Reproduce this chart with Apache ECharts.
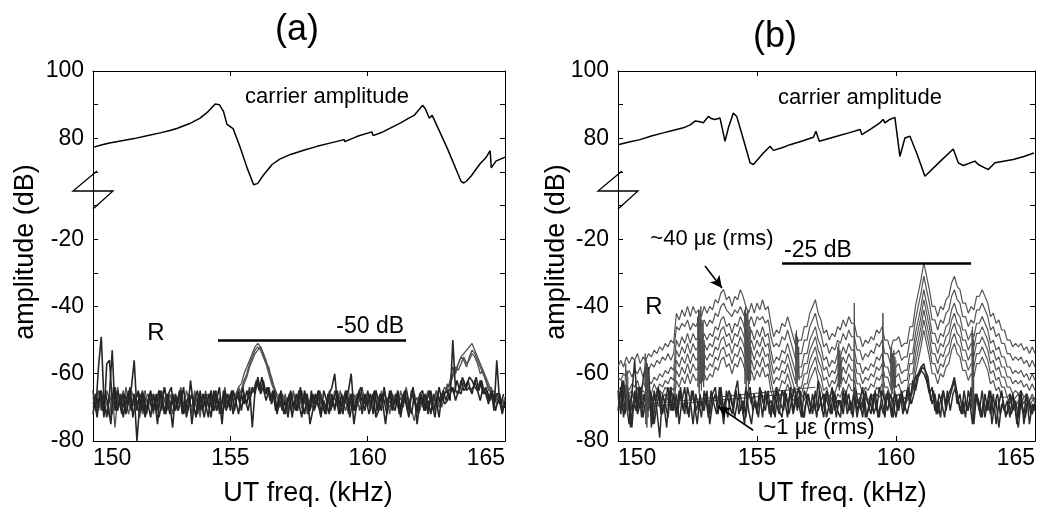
<!DOCTYPE html>
<html><head><meta charset="utf-8">
<script src="https://cdn.jsdelivr.net/npm/echarts/dist/echarts.min.js"></script>
<style>html,body{margin:0;padding:0;background:#fff}#chart{width:1053px;height:513px}</style>
</head><body><div id="chart"></div>
<script>
// ---------- x-axis tick labels / y-axis tick labels ----------
const xTicks = [150, 155, 160, 165];
const yTickLabels = {30: '100', 10: '80', '-20': '-20', '-40': '-40', '-60': '-60', '-80': '-80'};
const UPPER_SHIFT = 70; // upper (carrier) segment is drawn above the axis break: axis value = dB - 70

// ---------- carrier amplitude (dB) ----------
const carrierA_f  = [150.0,150.3,150.6,151.0,151.5,152.0,152.45,152.8,153.05,153.5,153.9,154.2,154.45,154.6,154.75,154.88,155.1,155.35,155.61,155.85,156.0,156.2,156.52,156.8,157.19,157.7,158.16,158.7,159.14,159.17,159.6,160.15,160.2,160.5,161.2,161.5,161.69,161.85,162.0,162.1,162.24,162.35,162.42,162.9,163.4,163.5,163.6,163.76,164.1,164.3,164.46,164.5,164.67,165.0];
const carrierA_db = [77.3,78.0,78.6,79.2,79.9,80.8,81.6,82.3,82.9,84.3,86.0,88.0,90.2,90.0,88.0,84.1,82.9,77.5,71.2,66.2,66.6,69.0,72.2,73.8,75.2,76.5,77.6,78.7,79.6,79.0,80.5,81.9,80.8,81.7,84.6,86.0,86.8,88.3,89.8,88.8,86.0,86.8,86.5,77.0,67.2,66.7,67.3,68.7,72.5,74.2,76.3,71.2,73.2,74.4];
const carrierB_f  = [150.0,150.4,150.79,151.2,151.63,152.0,152.35,152.6,152.77,152.9,153.07,153.25,153.35,153.49,153.67,153.85,153.97,154.15,154.27,154.5,154.75,154.87,155.05,155.23,155.47,155.59,155.9,156.19,156.6,157.03,157.12,157.24,157.87,158.3,158.71,158.77,159.1,159.42,159.54,159.6,159.78,159.96,160.14,160.32,160.5,160.75,161.04,161.1,161.6,162.06,162.24,162.42,162.84,162.96,163.32,163.56,164.22,164.6,164.96];
const carrierB_db = [78.1,78.9,79.6,80.7,81.6,82.4,83.1,84.0,85.1,85.0,84.6,86.5,85.9,85.6,86.0,79.1,83.1,87.5,86.5,80.0,72.7,72.2,73.9,75.6,77.6,76.4,77.2,78.1,79.1,80.3,82.1,79.1,80.6,81.6,82.6,81.1,82.8,84.6,85.6,84.6,85.6,86.2,74.6,80.1,80.6,75.5,68.7,69.2,73.2,76.8,72.7,71.9,73.2,72.2,70.7,72.7,73.7,74.6,75.6];

// ---------- sideband spectra, sampled every 0.1 kHz from 150 kHz (offset records from 150.05 kHz) ----------
const specStart = 150, specStartOffset = 150.05, specStep = 0.1;
// panel (a): traces with sidebands
const specA1 = [-69,-66,-71,-67,-70,-65,-68,-72,-66,-69, -67,-70,-64,-69,-71,-66,-68,-73,-67,-65, -70,-68,-66,-71,-67,-69,-64,-70,-68,-72, -66,-69,-67,-71,-65,-68,-70,-66,-72,-67, -69,-65,-70,-68,-66,-71,-67,-69,-64,-70, -67,-68,-66,-64,-63,-60,-58,-56,-54,-52, -51,-52,-54,-56,-59,-61,-64,-66,-67,-69, -66,-70,-68,-65,-71,-67,-69,-66,-72,-68, -67,-70,-65,-69,-68,-71,-66,-69,-67,-70, -65,-68,-71,-67,-69,-66,-70,-68,-64,-69, -67,-71,-66,-68,-70,-65,-69,-67,-72,-66, -68,-70,-65,-69,-67,-71,-66,-68,-70,-67, -69,-66,-71,-67,-68,-65,-70,-68,-66,-64, -63,-61,-59,-57,-55,-54,-53,-52,-51,-53, -55,-57,-59,-61,-63,-65,-67,-66,-69,-68, -70];
const specA2 = [-67,-71,-68,-65,-69,-72,-66,-70,-68,-64, -70,-67,-69,-72,-65,-68,-70,-66,-71,-68, -66,-69,-72,-67,-70,-65,-68,-71,-66,-69, -70,-67,-64,-69,-71,-68,-66,-70,-67,-73, -66,-70,-68,-65,-71,-67,-69,-72,-68,-66, -70,-65,-68,-66,-65,-62,-60,-57,-55,-53, -52,-53,-55,-57,-60,-63,-65,-67,-70,-66, -69,-67,-71,-66,-68,-70,-65,-69,-67,-71, -68,-66,-70,-67,-69,-72,-65,-68,-70,-66, -69,-71,-67,-65,-70,-68,-66,-71,-69,-67, -70,-66,-69,-72,-67,-68,-65,-70,-68,-71, -66,-69,-67,-70,-64,-68,-71,-74,-69,-66, -70,-68,-65,-69,-71,-67,-68,-66,-64,-65, -62,-58,-60,-57,-55,-56,-58,-55,-53,-54, -56,-58,-60,-62,-64,-66,-65,-68,-67,-70, -68];
const specA3 = [-70,-68,-65,-71,-67,-69,-73,-66,-76,-67, -68,-65,-71,-67,-70,-69,-66,-68,-72,-67, -69,-66,-70,-68,-65,-71,-67,-69,-70,-66, -68,-71,-66,-70,-68,-67,-72,-65,-69,-68, -71,-67,-66,-70,-69,-65,-72,-68,-67,-70, -68,-66,-69,-64,-66,-63,-61,-58,-56,-54, -53,-52,-54,-57,-58,-62,-64,-67,-68,-70, -67,-71,-66,-69,-68,-65,-70,-72,-67,-69, -70,-67,-68,-66,-71,-69,-67,-70,-65,-68, -67,-70,-68,-72,-66,-69,-67,-70,-71,-66, -68,-70,-67,-65,-71,-69,-66,-68,-70,-67, -69,-67,-71,-66,-68,-70,-65,-69,-67,-71, -67,-70,-66,-68,-69,-65,-67,-70,-66,-63, -64,-60,-58,-59,-57,-55,-57,-56,-54,-55, -57,-60,-59,-62,-65,-64,-67,-69,-66,-69, -67];
// panel (a): traces without sidebands (noise floor)
const specA4 = [-65,-71,-58,-49,-68,-73,-66,-53,-71,-65, -69,-66,-72,-68,-64,-56,-71,-66,-69,-73, -68,-65,-71,-66,-73,-69,-64,-68,-72,-66, -71,-68,-65,-72,-69,-66,-75,-68,-65,-71, -66,-69,-73,-65,-71,-68,-64,-72,-69,-66, -71,-65,-68,-72,-66,-69,-65,-68,-64,-66, -61,-65,-62,-66,-64,-68,-65,-71,-66,-69, -72,-68,-65,-71,-66,-69,-73,-65,-68,-71, -66,-69,-65,-72,-68,-71,-66,-64,-60,-69, -68,-72,-66,-65,-60,-71,-68,-65,-72,-66, -69,-66,-72,-65,-68,-71,-64,-69,-66,-71, -68,-65,-71,-66,-69,-73,-65,-68,-71,-66, -65,-71,-68,-72,-66,-69,-64,-68,-66,-65, -68,-50,-65,-66,-62,-65,-64,-61,-62,-64, -65,-62,-66,-64,-68,-65,-69,-66,-66,-71, -69];
const specA5 = [-72,-66,-69,-65,-73,-57,-56,-68,-64,-71, -66,-73,-68,-65,-71,-66,-80,-69,-65,-72, -69,-73,-66,-71,-65,-68,-72,-66,-69,-76, -66,-71,-68,-64,-73,-69,-66,-71,-72,-65, -71,-66,-69,-73,-65,-71,-68,-75,-65,-69, -66,-72,-68,-65,-71,-66,-69,-64,-76,-65, -62,-66,-64,-68,-65,-69,-66,-72,-68,-71, -68,-73,-66,-69,-71,-65,-68,-72,-66,-75, -71,-66,-69,-73,-65,-68,-72,-66,-71,-65, -72,-68,-65,-71,-66,-75,-69,-66,-68,-71, -65,-69,-66,-73,-71,-66,-68,-72,-65,-69, -71,-66,-73,-68,-65,-69,-72,-66,-75,-68, -69,-66,-72,-65,-71,-68,-73,-66,-69,-68, -66,-64,-68,-65,-66,-62,-65,-64,-66,-62, -65,-68,-64,-66,-69,-65,-71,-56,-68,-72, -68];
const specA6 = [-68,-73,-65,-71,-66,-69,-75,-64,-71,-68, -72,-66,-69,-64,-73,-68,-65,-71,-66,-72, -66,-71,-68,-75,-65,-69,-72,-66,-64,-71, -69,-65,-72,-68,-71,-62,-69,-73,-66,-69, -73,-68,-66,-71,-65,-69,-72,-65,-71,-68, -65,-71,-66,-69,-64,-68,-71,-66,-65,-62, -65,-61,-66,-64,-68,-65,-71,-68,-65,-72, -69,-66,-73,-68,-71,-64,-69,-66,-72,-65, -71,-68,-65,-69,-72,-66,-71,-68,-65,-72, -66,-69,-65,-73,-68,-71,-66,-64,-69,-68, -72,-68,-65,-71,-66,-69,-75,-68,-65,-69, -66,-72,-68,-65,-71,-68,-64,-69,-72,-66, -71,-68,-65,-69,-73,-66,-69,-65,-68,-65, -64,-66,-62,-65,-61,-64,-62,-65,-64,-61, -65,-62,-66,-65,-68,-66,-71,-68,-69,-66];

// panel (b): traces for increasing strain (~40 down to ~1 microstrain rms), top to bottom
const specB1 = [-58,-56,-58,-55,-57,-55,-56,-54,-57,-55, -56,-54,-55,-53,-54,-52,-53,-51,-52,-50, -51,-42,-44,-41,-43,-40,-43,-40,-42,-41, -43,-40,-42,-40,-41,-38,-39,-36,-35,-38, -37,-40,-37,-38,-35,-37,-40,-42,-39,-42, -39,-41,-38,-41,-40,-45,-49,-47,-48,-45, -46,-43,-46,-49,-52,-50,-50,-46,-46,-42, -40,-38,-42,-44,-48,-47,-50,-48,-49,-46, -47,-44,-46,-43,-45,-45,-49,-49,-52,-50, -51,-49,-50,-47,-48,-46,-50,-50,-53,-50, -50,-49,-52,-51,-51,-46,-46,-40,-36,-32, -27,-31,-35,-40,-40,-43,-40,-41,-38,-37, -33,-31,-34,-35,-39,-39,-42,-40,-41,-37, -37,-35,-37,-39,-43,-42,-45,-44,-47,-47, -50,-50,-52,-51,-52,-51,-53,-52,-54,-52, -54];
const specB2 = [-61,-62,-60,-61,-59,-61,-59,-60,-58,-61, -58,-59,-57,-58,-56,-57,-55,-56,-54,-56, -54,-46,-47,-45,-46,-44,-47,-45,-46,-44, -46,-44,-46,-44,-45,-42,-43,-40,-39,-41, -42,-43,-41,-42,-40,-42,-44,-45,-43,-46, -43,-44,-43,-45,-44,-49,-52,-51,-52,-49, -50,-47,-50,-53,-56,-54,-54,-50,-50,-46, -44,-42,-46,-48,-52,-51,-54,-52,-53,-50, -51,-48,-50,-47,-49,-49,-53,-53,-56,-54, -55,-53,-54,-51,-52,-50,-54,-54,-57,-54, -54,-53,-56,-55,-55,-50,-50,-44,-40,-36, -31,-35,-39,-44,-44,-47,-44,-45,-42,-41, -37,-35,-38,-39,-43,-43,-46,-44,-45,-41, -41,-39,-41,-43,-47,-46,-49,-48,-51,-51, -54,-54,-56,-55,-56,-55,-57,-56,-58,-56, -58];
const specB3 = [-65,-64,-66,-63,-65,-63,-64,-62,-65,-63, -63,-62,-63,-61,-62,-60,-61,-59,-60,-58, -59,-50,-52,-49,-51,-48,-51,-48,-50,-49, -51,-48,-50,-48,-49,-46,-47,-44,-43,-46, -45,-48,-45,-46,-43,-45,-48,-50,-47,-50, -47,-49,-46,-49,-48,-53,-57,-55,-56,-53, -54,-51,-54,-57,-60,-58,-58,-54,-54,-50, -48,-46,-50,-52,-56,-55,-58,-56,-57,-54, -55,-52,-54,-51,-53,-53,-57,-57,-60,-58, -59,-57,-58,-55,-56,-54,-58,-58,-61,-58, -58,-57,-60,-59,-59,-54,-54,-48,-44,-40, -35,-39,-43,-48,-48,-51,-48,-49,-46,-45, -41,-39,-42,-43,-47,-47,-50,-48,-49,-45, -45,-43,-45,-47,-51,-50,-53,-52,-55,-55, -58,-58,-60,-59,-60,-59,-61,-60,-62,-60, -62];
const specB4 = [-67,-65,-68,-64,-66,-65,-67,-64,-66,-65, -66,-64,-66,-63,-65,-63,-64,-62,-63,-61, -62,-53,-55,-52,-54,-51,-54,-51,-53,-52, -54,-51,-53,-51,-52,-49,-50,-47,-46,-49, -48,-51,-48,-49,-46,-48,-51,-53,-50,-53, -50,-52,-49,-52,-51,-56,-60,-58,-59,-56, -57,-54,-57,-60,-63,-61,-61,-57,-57,-53, -51,-49,-53,-55,-59,-58,-61,-59,-60,-57, -58,-55,-57,-54,-56,-56,-60,-60,-63,-61, -62,-60,-61,-58,-59,-57,-61,-61,-64,-61, -61,-60,-63,-62,-62,-57,-57,-51,-47,-43, -38,-42,-46,-51,-51,-54,-51,-52,-49,-48, -44,-42,-45,-46,-50,-50,-53,-51,-52,-48, -48,-46,-48,-50,-54,-53,-56,-55,-58,-58, -61,-61,-63,-62,-63,-62,-64,-63,-65,-63, -65];
const specB5 = [-66,-69,-65,-67,-70,-66,-68,-64,-67,-69, -67,-65,-68,-66,-67,-65,-66,-64,-65,-64, -65,-56,-58,-55,-57,-54,-57,-54,-56,-55, -57,-54,-56,-54,-55,-52,-53,-50,-49,-52, -51,-54,-51,-52,-49,-51,-54,-56,-53,-56, -53,-55,-52,-55,-54,-59,-63,-61,-62,-59, -60,-57,-60,-63,-66,-64,-64,-60,-60,-56, -54,-52,-56,-58,-62,-61,-64,-62,-63,-60, -61,-58,-60,-57,-59,-59,-63,-63,-66,-64, -65,-63,-64,-61,-62,-60,-64,-64,-67,-64, -64,-63,-66,-65,-65,-60,-60,-54,-50,-46, -41,-45,-49,-54,-54,-57,-54,-55,-52,-51, -47,-45,-48,-49,-53,-53,-56,-54,-55,-51, -51,-49,-51,-53,-57,-56,-59,-58,-61,-61, -64,-64,-66,-65,-66,-65,-67,-66,-68,-66, -68];
const specB6 = [-68,-65,-70,-67,-66,-71,-67,-69,-65,-68, -66,-70,-67,-68,-65,-69,-67,-66,-68,-65, -67,-59,-61,-58,-60,-57,-60,-57,-59,-58, -60,-57,-59,-57,-58,-55,-56,-53,-52,-55, -54,-57,-54,-55,-52,-54,-57,-59,-56,-59, -56,-58,-55,-58,-57,-62,-66,-64,-65,-62, -63,-60,-63,-66,-68,-67,-66,-63,-63,-59, -57,-55,-59,-61,-65,-64,-67,-65,-66,-63, -64,-61,-63,-60,-62,-62,-66,-66,-68,-67, -68,-66,-67,-64,-65,-63,-67,-67,-69,-67, -67,-66,-68,-67,-68,-63,-63,-57,-53,-49, -44,-48,-52,-57,-57,-60,-57,-58,-55,-54, -50,-48,-51,-52,-56,-56,-59,-57,-58,-54, -54,-52,-54,-56,-60,-59,-62,-61,-64,-64, -67,-66,-68,-67,-66,-69,-67,-66,-68,-67, -69];
const specB7 = [-67,-70,-66,-68,-71,-65,-69,-67,-70,-66, -69,-67,-71,-66,-68,-70,-67,-69,-66,-68, -70,-62,-64,-61,-63,-60,-63,-60,-62,-61, -63,-60,-62,-60,-61,-58,-59,-56,-55,-58, -57,-60,-57,-58,-55,-57,-60,-62,-59,-62, -59,-61,-58,-61,-60,-65,-68,-66,-68,-65, -66,-63,-66,-68,-67,-70,-66,-68,-65,-62, -60,-58,-62,-64,-68,-66,-69,-67,-69,-66, -67,-64,-66,-63,-65,-65,-69,-67,-70,-67, -69,-67,-68,-66,-67,-65,-69,-67,-70,-68, -68,-69,-67,-70,-68,-66,-66,-60,-56,-52, -47,-51,-55,-60,-60,-63,-60,-61,-58,-57, -53,-51,-54,-55,-59,-59,-62,-60,-61,-57, -57,-55,-57,-59,-63,-62,-65,-64,-67,-67, -67,-69,-66,-70,-68,-67,-69,-66,-70,-68, -67];
// panel (b): noise-floor records
const specB8 = [-65,-72,-62,-69,-75,-66,-56,-71,-64,-73, -68,-58,-76,-65,-71,-79,-66,-69,-73,-64, -71,-66,-75,-68,-64,-72,-69,-65,-71,-68, -73,-65,-69,-72,-66,-64,-71,-68,-75,-65, -69,-72,-66,-62,-71,-68,-73,-65,-69,-66, -72,-64,-68,-71,-65,-73,-66,-69,-72,-65, -68,-73,-64,-71,-66,-69,-73,-65,-68,-72, -66,-71,-62,-69,-73,-65,-68,-72,-66,-71, -73,-65,-69,-66,-72,-64,-71,-68,-73,-65, -69,-72,-66,-71,-64,-68,-73,-65,-69,-73, -66,-71,-65,-69,-72,-68,-64,-61,-60,-58, -57,-61,-65,-69,-66,-72,-68,-65,-71,-66, -64,-61,-66,-71,-68,-73,-65,-69,-72,-66, -71,-65,-73,-68,-72,-66,-75,-69,-65,-71, -68,-73,-66,-71,-76,-68,-72,-66,-75,-69, -71];
const specB9 = [-71,-64,-73,-66,-68,-76,-65,-72,-69,-62, -57,-71,-66,-75,-69,-65,-72,-68,-64,-71, -66,-73,-65,-69,-72,-64,-68,-75,-66,-71, -68,-71,-65,-75,-69,-66,-72,-64,-71,-68, -65,-69,-73,-68,-66,-72,-64,-71,-75,-68, -71,-66,-73,-65,-69,-68,-72,-64,-71,-73, -65,-69,-66,-72,-68,-64,-71,-73,-66,-69, -72,-65,-71,-68,-66,-73,-69,-64,-71,-68, -68,-72,-65,-71,-69,-66,-73,-68,-64,-73, -71,-66,-72,-69,-73,-65,-68,-71,-66,-69, -73,-68,-66,-71,-65,-69,-62,-65,-61,-59, -60,-62,-66,-64,-71,-68,-73,-65,-69,-68, -65,-62,-69,-66,-72,-68,-71,-64,-75,-66, -69,-73,-66,-71,-65,-72,-68,-76,-69,-71, -72,-66,-71,-68,-73,-65,-75,-69,-68,-72, -69];
const specB10 = [-69,-62,-72,-65,-76,-68,-71,-64,-73,-66, -71,-65,-75,-68,-64,-72,-69,-76,-65,-71, -68,-72,-64,-71,-66,-73,-65,-69,-75,-66, -71,-66,-73,-65,-69,-72,-64,-71,-68,-73, -66,-71,-65,-72,-69,-75,-66,-64,-71,-68, -73,-65,-69,-66,-72,-68,-73,-65,-69,-71, -66,-72,-68,-64,-71,-65,-73,-69,-66,-71, -68,-73,-65,-71,-66,-69,-72,-65,-73,-68, -71,-66,-72,-68,-73,-65,-69,-71,-66,-73, -68,-71,-65,-73,-69,-72,-66,-68,-73,-65, -71,-66,-72,-68,-64,-69,-66,-61,-60,-58, -59,-61,-68,-65,-72,-66,-69,-73,-65,-71, -66,-64,-68,-72,-65,-71,-68,-75,-66,-69, -73,-68,-71,-65,-75,-69,-66,-72,-68,-73, -69,-72,-68,-75,-66,-71,-73,-68,-72,-69];
// panel (b): sparse lowest-level record (straight segments between few samples)
const sparseB1 = [[150.0, -70.0], [157.1, -64.0]];
const sparseB2 = [[150.0, -70.6], [156.1, -66.0]];
// panel (b): rapid oscillation bursts  [kHz, dB]
const burstsB = [
  [[150.26,-62],[150.28,-57],[150.30,-71],[150.32,-59],[150.34,-72],[150.36,-61]],
  [[150.96,-64],[150.98,-54],[151.00,-75],[151.02,-56],[151.04,-76],[151.06,-57],[151.08,-73],[151.10,-60],[151.12,-70]],
  [[152.86,-43],[152.88,-64],[152.90,-41],[152.92,-66],[152.94,-42],[152.96,-63],[152.98,-40],[153.00,-65],[153.02,-44],[153.04,-62],[153.06,-45],[153.08,-64],[153.10,-50],[153.12,-62]],
  [[154.55,-41],[154.57,-63],[154.59,-40],[154.61,-65],[154.63,-42],[154.65,-62],[154.67,-41],[154.69,-66],[154.71,-44],[154.73,-63],[154.75,-46],[154.77,-62],[154.79,-52]],
  [[156.38,-48],[156.40,-62],[156.42,-47],[156.44,-64],[156.46,-49],[156.48,-61],[156.50,-52],[156.52,-62]],
  [[157.90,-52],[157.92,-64],[157.94,-51],[157.96,-65],[157.98,-53],[158.00,-63],[158.02,-55],[158.04,-62],[158.06,-58]],
  [[158.47,-66],[158.50,-39],[158.53,-67]],
  [[159.50,-65],[159.53,-42],[159.56,-66]],
  [[159.80,-53],[159.82,-65],[159.84,-52],[159.86,-66],[159.88,-54],[159.90,-64],[159.92,-53],[159.94,-66],[159.96,-55],[159.98,-64],[160.00,-56]],
  [[162.73,-47],[162.74,-70],[162.75,-46],[162.76,-72],[162.77,-48],[162.78,-69],[162.79,-50],[162.80,-71]]
];

// ---------- reference lines / arrows (data coordinates) ----------
const refA = {from: 154.55, to: 161.4, level: -50, text: '-50 dB'};
const refB = {from: 155.9, to: 162.7, level: -27.3, text: '-25 dB'};
const arrowHigh = [[153.13, -28.0], [153.74, -34.5]];
const arrowLow  = [[154.86, -76.8], [153.6, -69.7]];

// =================== chart ===================
const FONT = '"Liberation Sans", Arial, Helvetica, sans-serif';
const GA = {left: 93, top: 71, width: 412, height: 370};
const GB = {left: 618, top: 71, width: 417, height: 370};

const spec = (arr, start) => arr.map((v, i) => [+((start === undefined ? specStart : start) + i * specStep).toFixed(2), v]);
const pairs = (fs, vs, shift) => fs.map((f, i) => [f, vs[i] - shift]);

function yLabel(v) { return yTickLabels[v] !== undefined ? yTickLabels[v] : ''; }

const tick = {inside: true, length: 5, lineStyle: {color: '#000', width: 1}};
const aline = {show: true, onZero: false, lineStyle: {color: '#000', width: 1}};

function xAxes(gi) {
  return [
    {gridIndex: gi, type: 'value', min: xTicks[0], max: xTicks[xTicks.length - 1], interval: xTicks[1] - xTicks[0], position: 'bottom',
     axisLine: aline, axisTick: tick, splitLine: {show: false},
     axisLabel: {color: '#000', fontSize: 23, fontFamily: FONT, margin: 6, showMinLabel: true, showMaxLabel: true, alignMinLabel: 'left', alignMaxLabel: 'right'}},
    {gridIndex: gi, type: 'value', min: xTicks[0], max: xTicks[xTicks.length - 1], interval: xTicks[1] - xTicks[0], position: 'top',
     axisLine: aline, axisTick: tick, splitLine: {show: false}, axisLabel: {show: false}}
  ];
}
function yAxes(gi) {
  return [
    {gridIndex: gi, type: 'value', min: -80, max: 30, interval: 10, position: 'left',
     axisLine: aline, axisTick: tick, splitLine: {show: false},
     axisLabel: {color: '#000', fontSize: 23, fontFamily: FONT, margin: 9, formatter: yLabel, showMinLabel: true, showMaxLabel: true}},
    {gridIndex: gi, type: 'value', min: -80, max: 30, interval: 10, position: 'right',
     axisLine: aline, axisTick: tick, splitLine: {show: false}, axisLabel: {show: false}}
  ];
}

function line(data, xi, yi, color, width, extra) {
  return Object.assign({type: 'line', xAxisIndex: xi, yAxisIndex: yi, data: data, showSymbol: false, symbol: 'none',
    lineStyle: {color: color, width: width}, itemStyle: {color: color}, silent: true, animation: false, z: 2}, extra || {});
}

function refMark(ref, labelPos) {
  return [[{coord: [ref.from, ref.level], symbol: 'none'}, {coord: [ref.to, ref.level], symbol: 'none',
    label: {show: true, position: labelPos, formatter: ref.text, color: '#000', fontSize: 23, fontFamily: FONT, distance: 2}}]];
}
function arrowMark(a) {
  return [{coord: a[0], symbol: 'none', lineStyle: {width: 1.6, color: '#000'}, label: {show: false}},
          {coord: a[1], symbol: 'arrow', symbolSize: [9, 12], lineStyle: {width: 1.6, color: '#000'}, label: {show: false}}];
}

const seriesA = [];
[specA1, specA2, specA3].forEach(s => seriesA.push(line(spec(s), 0, 0, '#505050', 1.3)));
[specA4, specA5].forEach(s => seriesA.push(line(spec(s), 0, 0, '#262626', 1.6)));
seriesA.push(line(spec(specA6, specStartOffset), 0, 0, '#262626', 1.6));
seriesA.push(line(pairs(carrierA_f, carrierA_db, UPPER_SHIFT), 0, 0, '#000', 1.5, {
  z: 5,
  markLine: {silent: true, animation: false, symbol: ['none', 'none'], lineStyle: {color: '#000', width: 2.5, type: 'solid'},
    label: {show: false}, data: refMark(refA, 'insideEndTop')}
}));

const seriesB = [];
[specB1, specB2, specB3, specB4, specB5, specB6, specB7].forEach(s => seriesB.push(line(spec(s), 2, 2, '#555', 1.2)));
[sparseB1, sparseB2].forEach(s => seriesB.push(line(s, 2, 2, '#444', 1)));
[specB8, specB9].forEach(s => seriesB.push(line(spec(s), 2, 2, '#2a2a2a', 1.5)));
seriesB.push(line(spec(specB10, specStartOffset), 2, 2, '#2a2a2a', 1.5));
burstsB.forEach(s => seriesB.push(line(s, 2, 2, '#4d4d4d', 1)));
seriesB.push(line(pairs(carrierB_f, carrierB_db, UPPER_SHIFT), 2, 2, '#000', 1.5, {
  z: 5,
  markLine: {silent: true, animation: false, symbol: ['none', 'none'], lineStyle: {color: '#000', width: 2.5, type: 'solid'},
    label: {show: false}, data: refMark(refB, 'insideStartTop').concat([arrowMark(arrowHigh), arrowMark(arrowLow)])}
}));

function txt(text, x, y, size, extra) {
  return Object.assign({type: 'text', x: x, y: y, z: 100, silent: true,
    style: {text: text, fontSize: size, fontFamily: FONT, fill: '#000', align: 'center', verticalAlign: 'middle'}}, extra || {});
}
function breakMark(g) {
  const x = g.left, yc = 191;
  return {type: 'polyline', z: 100, silent: true,
    shape: {points: [[x + 4, yc - 20], [x - 20, yc], [x + 20, yc], [x, yc + 18]]},
    style: {stroke: '#000', lineWidth: 1.3, fill: null}};
}

const option = {
  backgroundColor: '#fff',
  animation: false,
  grid: [Object.assign({show: false}, GA), Object.assign({show: false}, GB)],
  xAxis: xAxes(0).concat(xAxes(1)),
  yAxis: yAxes(0).concat(yAxes(1)),
  series: seriesA.concat(seriesB),
  graphic: [
    txt('(a)', 297, 30, 36),
    txt('(b)', 775, 37, 36),
    txt('carrier amplitude', 327, 97, 22),
    txt('carrier amplitude', 860, 98, 22),
    txt('R', 156, 333, 24),
    txt('R', 654, 307, 24),
    txt('~40 \u03bc\u03b5 (rms)', 712, 239, 22),
    txt('~1 \u03bc\u03b5 (rms)', 819, 428, 22),
    txt('UT freq. (kHz)', 308, 494, 27),
    txt('UT freq. (kHz)', 842, 494, 27),
    txt('amplitude (dB)', 26, 252, 27, {rotation: Math.PI / 2}),
    txt('amplitude (dB)', 557, 252, 27, {rotation: Math.PI / 2}),
    breakMark(GA),
    breakMark(GB)
  ]
};

const chart = echarts.init(document.getElementById('chart'), null, {renderer: 'canvas'});
chart.setOption(option);
</script>
</body></html>
